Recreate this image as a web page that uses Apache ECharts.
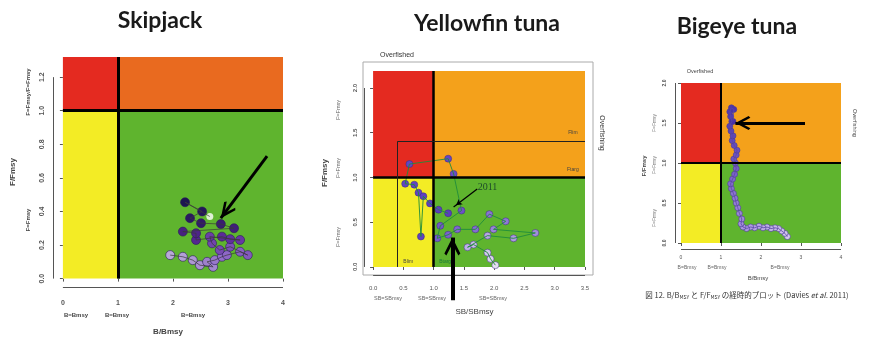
<!DOCTYPE html>
<html>
<head>
<meta charset="utf-8">
<script src="https://cdn.jsdelivr.net/npm/echarts@6/dist/echarts.min.js"></script>
<style>html,body{margin:0;background:#fff}#c{width:869px;height:337px}</style>
</head>
<body>
<div id="c"></div>
<script>
// Kobe plots (B/Bmsy vs F/Fmsy) for skipjack, yellowfin and bigeye

// coloured plot region of each panel
const skjX = [0, 4], skjY = [0, 1.32];
const yftX = [0, 3.5], yftY = [0, 2.19];
const betX = [0, 4], betY = [0, 2];
// where the R-style axes stand, a little outside the region
const skjAxisAt = [-0.18, -0.05];
const yftAxisAt = [-0.15, -0.09];
const betAxisAt = [-0.15, -0.075];

const skjXTicks = [0, 1, 2, 3, 4];
const skjYTicks = [0, 0.2, 0.4, 0.6, 0.8, 1.0, 1.2];
const yftXTicks = [0, 0.5, 1, 1.5, 2, 2.5, 3, 3.5];
const yftYTicks = [0, 0.5, 1, 1.5, 2];
const betXTicks = [0, 1, 2, 3, 4];
const betYTicks = [0, 0.5, 1, 1.5, 2];

// trajectories, oldest year first  [B/Bmsy, F/Fmsy]
const skjTrack = [
  [1.95, 0.14], [2.18, 0.13], [2.36, 0.11], [2.49, 0.08], [2.73, 0.07], [2.62, 0.10],
  [2.76, 0.11], [2.89, 0.13], [2.98, 0.14], [3.22, 0.16], [3.36, 0.14], [3.04, 0.19],
  [2.85, 0.17], [2.71, 0.21], [2.67, 0.25], [3.22, 0.23], [3.04, 0.235], [2.89, 0.25],
  [2.42, 0.23], [2.42, 0.27], [2.18, 0.28], [3.11, 0.30], [2.87, 0.325], [2.51, 0.33],
  [2.31, 0.36], [2.53, 0.40], [2.22, 0.455]
];
const skjLast = [[2.67, 0.37]];

const yftTrack = [
  [2.02, 0.02], [1.94, 0.09], [1.89, 0.16], [1.66, 0.25], [1.56, 0.22], [1.89, 0.35],
  [2.32, 0.32], [2.68, 0.38], [1.99, 0.42], [2.19, 0.51], [1.92, 0.59], [1.69, 0.42],
  [1.39, 0.42], [1.24, 0.36], [1.06, 0.32], [1.11, 0.46], [1.46, 0.63], [1.33, 1.04],
  [1.24, 1.21], [0.60, 1.15], [0.53, 0.93], [0.68, 0.92], [0.75, 0.83], [0.79, 0.34],
  [0.83, 0.79], [0.94, 0.71], [1.08, 0.64], [1.24, 0.60]
];

const betTrack = [
  [2.66, 0.08], [2.60, 0.12], [2.52, 0.15], [2.44, 0.18], [2.35, 0.19], [2.25, 0.18],
  [2.15, 0.20], [2.05, 0.19], [1.95, 0.21], [1.84, 0.19], [1.74, 0.20], [1.64, 0.18],
  [1.55, 0.20], [1.50, 0.24], [1.52, 0.30], [1.46, 0.37], [1.42, 0.44], [1.38, 0.50],
  [1.35, 0.56], [1.31, 0.62], [1.26, 0.68], [1.24, 0.74], [1.29, 0.80], [1.34, 0.86],
  [1.38, 0.93], [1.36, 1.00], [1.32, 1.05], [1.38, 1.10], [1.40, 1.16], [1.33, 1.22],
  [1.28, 1.28], [1.30, 1.34], [1.25, 1.40], [1.22, 1.46], [1.27, 1.52], [1.24, 1.58],
  [1.22, 1.64], [1.26, 1.69], [1.32, 1.67], [1.30, 1.52]
];

// limit reference box in the yellowfin plot
const yftBlim = 0.4, yftFlim = 1.4;

const skjArrow = [[3.71, 0.73], [2.87, 0.36]];
const yftArrow = [[1.31, -0.37], [1.31, 0.33]];
const yft2011Arrow = [[1.72, 0.87], [1.33, 0.67]];
const betArrow = [[3.1, 1.5], [1.36, 1.5]];
const yftArrowYMin = -0.49; // hidden axis under the yellowfin plot, same scale

const yftNotes = [
  { name: 'Flim', coord: [3.3, 1.5] },
  { name: 'Ftarg', coord: [3.3, 1.09] },
  { name: 'Blim', coord: [0.58, 0.06] },
  { name: 'Btarg', coord: [1.19, 0.06] },
  { name: '2011', coord: [1.89, 0.89] }
];

const RED = '#e42a20', ORG_SKJ = '#e96a1f', ORG = '#f4a11b', YEL = '#f3ec25', GRN = '#5fb42e';
const CHEVRON = 'path://M0,0 L12,15 L9,17 L0,6 L-9,17 L-12,15 Z';
const AX = '#555';

function zones(xr, yr, orange) {
  return [
    [{ coord: [xr[0], 1], itemStyle: { color: RED } }, { coord: [1, yr[1]] }],
    [{ coord: [1, 1], itemStyle: { color: orange } }, { coord: [xr[1], yr[1]] }],
    [{ coord: [xr[0], yr[0]], itemStyle: { color: YEL } }, { coord: [1, 1] }],
    [{ coord: [1, yr[0]], itemStyle: { color: GRN } }, { coord: [xr[1], 1] }]
  ];
}

// R axes only run from the first to the last tick
function axisLines(at, xt, yt) {
  return [
    [{ coord: [xt[0], at[1]] }, { coord: [xt[xt.length - 1], at[1]] }],
    [{ coord: [at[0], yt[0]] }, { coord: [at[0], yt[yt.length - 1]] }]
  ];
}

// arrow with the head's tip on the end point
function arrow(a, w, head, sym) {
  return [
    { coord: a[0], lineStyle: { width: w, color: '#000' }, symbol: 'none' },
    { coord: a[1], symbol: sym || CHEVRON, symbolSize: head, symbolOffset: [0, '50%'] }
  ];
}

function fmt1(v) { return v.toFixed(1); }
function fmt0(v) { return String(Math.round(v)); }

function axis(grid, min, max, ticks, f, o) {
  return {
    gridIndex: grid, type: 'value', min: min, max: max,
    splitLine: { show: false },
    axisLine: { show: false },
    axisTick: { show: true, length: 3, customValues: ticks, lineStyle: { color: AX } },
    axisLabel: { customValues: ticks, formatter: f, fontSize: o.fs, color: '#555', margin: o.margin,
      rotate: o.rotate || 0, fontFamily: 'Liberation Sans', fontWeight: o.bold ? 'bold' : 'normal' },
    name: o.name, nameLocation: 'middle', nameGap: o.nameGap,
    nameTextStyle: { fontSize: o.nameFs, color: '#444', fontFamily: 'Liberation Sans',
      fontWeight: o.bold ? 'bold' : 'normal' }
  };
}

function rows(track) { return track.map((p, i) => [p[0], p[1], i]); }

function txt(s, x, y, fs, opt) {
  opt = opt || {};
  return {
    type: 'text', x: x, y: y, rotation: opt.rot || 0, z: 100,
    style: { text: s, font: (opt.bold ? 'bold ' : '') + fs + 'px ' + (opt.family || 'Liberation Sans'),
      fill: opt.color || '#444', textAlign: opt.align || 'center', textVerticalAlign: 'middle' }
  };
}

const V = Math.PI / 2;
const axisLineStyle = { color: AX, width: 1, type: 'solid' };

function overlay(ax, lines, extra) {
  return Object.assign({
    type: 'line', xAxisIndex: ax, yAxisIndex: ax, data: [], clip: false, silent: true,
    markLine: { silent: true, symbol: 'none', label: { show: false }, lineStyle: axisLineStyle, data: lines }
  }, extra || {});
}

const chart = echarts.init(document.getElementById('c'));
chart.setOption({
  animation: false,
  backgroundColor: '#fff',
  grid: [
    { left: 53, top: 57, width: 230, height: 230, outerBoundsMode: 'none' },
    { left: 364, top: 71, width: 221, height: 204, outerBoundsMode: 'none' },
    { left: 675, top: 83, width: 166, height: 166, outerBoundsMode: 'none' },
    { left: 363, top: 62, width: 230, height: 213, outerBoundsMode: 'none', show: true, borderColor: '#aaa', borderWidth: 1, backgroundColor: 'transparent' },
    { left: 373, top: 71, width: 212, height: 240, outerBoundsMode: 'none' }
  ],
  xAxis: [
    axis(0, skjAxisAt[0], skjX[1], skjXTicks, fmt0, { fs: 7, margin: 13, name: 'B/Bmsy', nameGap: 41, nameFs: 8, bold: true }),
    axis(1, yftAxisAt[0], yftX[1], yftXTicks, fmt1, { fs: 6, margin: 10, name: 'SB/SBmsy', nameGap: 33, nameFs: 8 }),
    axis(2, betAxisAt[0], betX[1], betXTicks, fmt0, { fs: 5, margin: 6, name: 'B/Bmsy', nameGap: 26, nameFs: 6 }),
    { gridIndex: 3, show: false, min: 0, max: 1 },
    { gridIndex: 4, show: false, min: yftX[0], max: yftX[1] }
  ],
  yAxis: [
    axis(0, skjAxisAt[1], skjY[1], skjYTicks, fmt1, { fs: 7, margin: 7, rotate: 90, name: 'F/Fmsy', nameGap: 36, nameFs: 8, bold: true }),
    axis(1, yftAxisAt[1], yftY[1], yftYTicks, fmt1, { fs: 6, margin: 6, rotate: 90, name: 'F/Fmsy', nameGap: 35, nameFs: 8, bold: true }),
    axis(2, betAxisAt[1], betY[1], betYTicks, fmt1, { fs: 5, margin: 8, rotate: 90, name: 'F/Fmsy', nameGap: 28, nameFs: 6, bold: true }),
    { gridIndex: 3, show: false, min: 0, max: 1 },
    { gridIndex: 4, show: false, min: yftArrowYMin, max: yftY[1] }
  ],
  visualMap: [
    { show: false, seriesIndex: 1, dimension: 2, min: 0, max: skjTrack.length - 1,
      inRange: { color: ['#b9a8d8', '#8a62c4', '#5a2796', '#1c1550'] } },
    { show: false, seriesIndex: 5, dimension: 2, min: 0, max: yftTrack.length - 1,
      inRange: { color: ['#e6dff2', '#8f77d6', '#6446c4', '#5a3dbd'] } },
    { show: false, seriesIndex: 8, dimension: 2, min: 0, max: betTrack.length - 1,
      inRange: { color: ['#d6c9ee', '#a58fdc', '#6f55c2', '#4a30a8'] } }
  ],
  series: [
    // --- skipjack
    { type: 'line', xAxisIndex: 0, yAxisIndex: 0, data: skjTrack.concat(skjLast), showSymbol: false,
      lineStyle: { color: '#3a3a3a', width: 0.7 }, silent: true,
      markArea: { silent: true, itemStyle: { opacity: 1 }, data: zones(skjX, skjY, ORG_SKJ) },
      markLine: { silent: true, symbol: 'none', label: { show: false },
        lineStyle: { color: '#000', width: 3, type: 'solid' },
        data: [
          [{ coord: [1, skjY[0]] }, { coord: [1, skjY[1]] }],
          [{ coord: [skjX[0], 1] }, { coord: [skjX[1], 1] }]
        ] } },
    { type: 'scatter', xAxisIndex: 0, yAxisIndex: 0, data: rows(skjTrack), symbolSize: 9,
      itemStyle: { borderColor: '#2a1a5a', borderWidth: 0.6, opacity: 1 }, silent: true },
    { type: 'scatter', xAxisIndex: 0, yAxisIndex: 0, data: skjLast, symbolSize: 7,
      itemStyle: { color: '#fff' }, silent: true },
    overlay(0, axisLines(skjAxisAt, skjXTicks, skjYTicks).concat([arrow(skjArrow, 3, [14, 17])])),
    // --- yellowfin
    { type: 'line', xAxisIndex: 1, yAxisIndex: 1, data: yftTrack, showSymbol: false,
      lineStyle: { color: '#1f8c3b', width: 0.9 }, silent: true,
      markArea: { silent: true, itemStyle: { opacity: 1 }, data: zones(yftX, yftY, ORG) },
      markLine: { silent: true, symbol: 'none', label: { show: false },
        lineStyle: { color: '#000', width: 2.5, type: 'solid' },
        data: [
          [{ coord: [1, yftY[0]] }, { coord: [1, yftY[1]] }],
          [{ coord: [yftX[0], 1] }, { coord: [yftX[1], 1] }],
          [{ coord: [yftBlim, 0], lineStyle: { width: 1, color: '#222' } }, { coord: [yftBlim, yftFlim] }],
          [{ coord: [yftBlim, yftFlim], lineStyle: { width: 1, color: '#222' } }, { coord: [yftX[1], yftFlim] }]
        ] } },
    { type: 'scatter', xAxisIndex: 1, yAxisIndex: 1, data: rows(yftTrack), symbolSize: 7,
      itemStyle: { borderColor: '#3a2a80', borderWidth: 0.5, opacity: 1 }, silent: true },
    overlay(1, axisLines(yftAxisAt, yftXTicks, yftYTicks).concat([arrow(yft2011Arrow, 1.3, [5, 6], 'arrow')]), {
      markPoint: { symbol: 'circle', symbolSize: 1, itemStyle: { color: 'rgba(0,0,0,0)' }, silent: true,
        label: { show: true, position: 'inside', formatter: '{b}', fontSize: 5, color: '#444', fontFamily: 'Liberation Sans' },
        data: yftNotes.map(n => {
          if (n.name === '2011') return Object.assign({ label: { fontSize: 10, color: '#1d4a2a', fontFamily: 'Liberation Serif' } }, n);
          if (n.name === 'Btarg') return Object.assign({ label: { color: '#1a7a3a' } }, n);
          return n;
        }) }
    }),
    // --- bigeye
    { type: 'line', xAxisIndex: 2, yAxisIndex: 2, data: betTrack, showSymbol: false,
      lineStyle: { color: '#5b47a8', width: 0.8 }, silent: true,
      markArea: { silent: true, itemStyle: { opacity: 1 }, data: zones(betX, betY, ORG) },
      markLine: { silent: true, symbol: 'none', label: { show: false },
        lineStyle: { color: '#000', width: 2, type: 'solid' },
        data: [
          [{ coord: [1, betY[0]] }, { coord: [1, betY[1]] }],
          [{ coord: [betX[0], 1] }, { coord: [betX[1], 1] }]
        ] } },
    { type: 'scatter', xAxisIndex: 2, yAxisIndex: 2, data: rows(betTrack), symbolSize: 6,
      itemStyle: { borderColor: '#4a3a96', borderWidth: 0.6, opacity: 1 }, silent: true },
    overlay(2, axisLines(betAxisAt, betXTicks, betYTicks).concat([arrow(betArrow, 3, [14, 15])])),
    // --- yellowfin big arrow (hidden axes reaching below the plot)
    overlay(4, [arrow(yftArrow, 4, [16, 18])], { z: 5 })
  ],
  graphic: [
    txt('Skipjack', 160, 21, 23, { bold: true, family: 'Lato', color: '#1a1a1a' }),
    txt('Yellowfin tuna', 487, 24, 23, { bold: true, family: 'Lato', color: '#1a1a1a' }),
    txt('Bigeye tuna', 737, 27, 23, { bold: true, family: 'Lato', color: '#1a1a1a' }),
    // skipjack side notes
    txt('F=Fmsy', 28, 220, 6, { rot: V, bold: true }),
    txt('F=Fmsy/F=Fmsy', 28, 92, 6, { rot: V, bold: true }),
    txt('B=Bmsy', 76, 315, 6, { bold: true }),
    txt('B=Bmsy', 117, 315, 6, { bold: true }),
    txt('B=Bmsy', 193, 315, 6, { bold: true }),
    // yellowfin side notes
    txt('Overfished', 397, 55, 7, { color: '#333' }),
    txt('Overfishing', 602, 133, 7, { rot: -V, color: '#333' }),
    txt('F=Fmsy', 338, 110, 5.5, { rot: V, color: '#666' }),
    txt('F=Fmsy', 338, 168, 5.5, { rot: V, color: '#666' }),
    txt('F=Fmsy', 338, 237, 5.5, { rot: V, color: '#666' }),
    txt('SB=SBmsy', 388, 298, 5.5, { color: '#666' }),
    txt('SB=SBmsy', 432, 298, 5.5, { color: '#666' }),
    txt('SB=SBmsy', 493, 298, 5.5, { color: '#666' }),
    // bigeye side notes
    txt('Overfished', 700, 71, 5.5, { color: '#444' }),
    txt('Overfishing', 855, 123, 5.5, { rot: -V, color: '#444' }),
    txt('F=Fmsy', 655, 123, 5, { rot: V, color: '#777' }),
    txt('F=Fmsy', 655, 165, 5, { rot: V, color: '#777' }),
    txt('F=Fmsy', 655, 218, 5, { rot: V, color: '#777' }),
    txt('B=Bmsy', 687, 268, 5, { color: '#666' }),
    txt('B=Bmsy', 717, 268, 5, { color: '#666' }),
    txt('B=Bmsy', 780, 268, 5, { color: '#666' }),
    {
      type: 'text', x: 747, y: 295, z: 100,
      style: {
        text: '図 12. B/B{s|MSY} と F/F{s|MSY} の経時的プロット (Davies {i|et al.} 2011)',
        font: '7.5px "Noto Sans CJK JP"', fill: '#333', textAlign: 'center', textVerticalAlign: 'middle',
        rich: {
          s: { fontSize: 5, fill: '#333', padding: [4, 0, 0, 0], fontFamily: 'Noto Sans CJK JP' },
          i: { fontSize: 7.5, fontStyle: 'italic', fill: '#333', fontFamily: 'Noto Sans CJK JP' }
        }
      }
    }
  ]
});
</script>
</body>
</html>
